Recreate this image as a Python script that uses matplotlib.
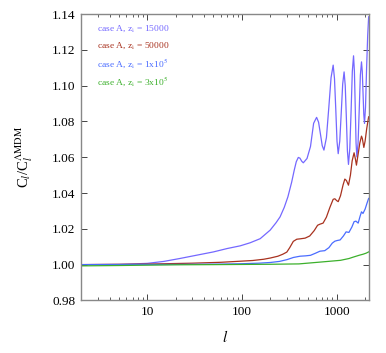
import matplotlib
matplotlib.use("Agg")
import matplotlib.pyplot as plt
from matplotlib.ticker import FixedLocator, FormatStrFormatter, LogLocator, NullFormatter

# Data (multipole l, ratio C_l / C_l^LambdaMDM)
l_a = [2, 5, 10, 15, 22, 30, 50, 70, 96, 122, 156, 199, 230, 253, 280, 306, 335, 357,
       375, 394, 410, 428, 445, 487, 530, 572, 615, 645, 675, 705, 735, 781, 828, 874,
       920, 950, 980, 1010, 1040, 1080, 1120, 1160, 1200, 1234, 1268, 1301, 1335, 1379,
       1423, 1466, 1510, 1542, 1574, 1605, 1637, 1686, 1735, 1783, 1832, 1867, 1902,
       1937, 1972, 2020, 2075, 2130, 2180]
ratio_a = [1.0000, 1.0001, 1.0007, 1.0018, 1.0034, 1.0048, 1.0071, 1.0090, 1.0105,
           1.0122, 1.0145, 1.0193, 1.0235, 1.0267, 1.0320, 1.0379, 1.0460, 1.0528,
           1.0575, 1.0599, 1.0595, 1.0578, 1.0569, 1.0593, 1.0660, 1.0790, 1.0823,
           1.0796, 1.0730, 1.0665, 1.0640, 1.0710, 1.0880, 1.1045, 1.1115, 1.1040,
           1.0870, 1.0690, 1.0620, 1.0690, 1.0850, 1.1010, 1.1077, 1.1000, 1.0820,
           1.0635, 1.0560, 1.0650, 1.0860, 1.1080, 1.1167, 1.1080, 1.0880, 1.0680,
           1.0602, 1.0680, 1.0870, 1.1060, 1.1133, 1.1080, 1.0960, 1.0840, 1.0789,
           1.0880, 1.1100, 1.1280, 1.1385]

l_b = [2, 10, 30, 60, 96, 130, 170, 200, 240, 270, 298, 320, 349, 380, 411, 465, 520,
       580, 630, 667, 720, 780, 850, 920, 959, 1000, 1040, 1100, 1170, 1222, 1270, 1335,
       1400, 1460, 1530, 1580, 1620, 1680, 1760, 1832, 1870, 1940, 2000, 2080, 2180]
ratio_b = [1.0000, 1.0003, 1.0008, 1.0013, 1.0019, 1.0023, 1.0030, 1.0037, 1.0047,
           1.0058, 1.0070, 1.0095, 1.0130, 1.0142, 1.0144, 1.0148, 1.0160, 1.0190,
           1.0220, 1.0226, 1.0232, 1.0265, 1.0320, 1.0365, 1.0368, 1.0358, 1.0352,
           1.0385, 1.0445, 1.0478, 1.0470, 1.0444, 1.0500, 1.0580, 1.0625, 1.0590,
           1.0556, 1.0610, 1.0680, 1.0718, 1.0705, 1.0655, 1.0690, 1.0760, 1.0826]

l_c = [2, 20, 60, 100, 150, 200, 250, 300, 350, 411, 470, 530, 600, 667, 750, 830, 900,
       959, 1020, 1090, 1180, 1260, 1350, 1450, 1530, 1600, 1690, 1770, 1832, 1900, 2000,
       2100, 2180]
ratio_c = [1.0000, 1.0001, 1.0003, 1.0005, 1.0008, 1.0012, 1.0018, 1.0028, 1.0040,
           1.0047, 1.0049, 1.0052, 1.0064, 1.0075, 1.0078, 1.0095, 1.0120, 1.0131,
           1.0135, 1.0138, 1.0160, 1.0183, 1.0180, 1.0210, 1.0240, 1.0243, 1.0232,
           1.0270, 1.0295, 1.0286, 1.0310, 1.0345, 1.0370]

l_d = [2, 5, 10, 20, 50, 100, 200, 400, 667, 900, 1100, 1350, 1500, 1750, 1900, 2050, 2180]
ratio_d = [0.9993, 0.9995, 0.9997, 0.9999, 1.0000, 1.0001, 1.0002, 1.0004, 1.0014,
           1.0020, 1.0024, 1.0034, 1.0042, 1.0053, 1.0058, 1.0064, 1.0071]

labels = [r"case A, z$_{\rm i}$ = 15000",
          r"case A, z$_{\rm i}$ = 50000",
          r"case A, z$_{\rm i}$ = 1x10$^5$",
          r"case A, z$_{\rm i}$ = 3x10$^5$"]
colors = ["#7468ff", "#a8321f", "#4a6cff", "#3cb02c"]

y_ticks = [0.98, 1.00, 1.02, 1.04, 1.06, 1.08, 1.10, 1.12, 1.14]
x_ticks = [10, 100, 1000]

plt.rcParams["font.family"] = "Liberation Serif"
plt.rcParams["mathtext.fontset"] = "stix"

fig = plt.figure(figsize=(3.86, 3.53), dpi=100)
ax = fig.add_axes([0.21, 0.149, 0.746, 0.811])

series = [(l_a, ratio_a), (l_b, ratio_b), (l_c, ratio_c), (l_d, ratio_d)]
for (x, y), c in zip(series, colors):
    ax.plot(x, y, color=c, lw=0.9)

ax.set_xscale("log")
ax.set_xlim(2, 2200)
ax.set_ylim(0.98, 1.14)
ax.xaxis.set_major_locator(FixedLocator(x_ticks))
ax.set_xticklabels([str(t) for t in x_ticks])
ax.xaxis.set_minor_locator(LogLocator(base=10, subs=range(2, 10)))
ax.xaxis.set_minor_formatter(NullFormatter())
ax.yaxis.set_major_locator(FixedLocator(y_ticks))
ax.yaxis.set_major_formatter(FormatStrFormatter("%.2f"))

ax.tick_params(which="both", direction="in", top=True, right=True,
               color="#444444", labelsize=9.5, pad=4)
ax.tick_params(which="major", length=4, width=0.7)
ax.tick_params(which="minor", length=2, width=0.6)
for sp in ax.spines.values():
    sp.set_color("#888888")
    sp.set_linewidth(1.0)

ax.set_xlabel(r"$l$", fontsize=11, labelpad=8)
ax.set_ylabel(r"C$_l$/C$_l^{\Lambda{\rm MDM}}$", fontsize=10.5, labelpad=12)

for i, (txt, c) in enumerate(zip(labels, colors)):
    ax.text(0.055, 0.95 - i * 0.062, txt, color=c, fontsize=6.8,
            transform=ax.transAxes, va="center", ha="left")

fig.savefig("out.png", dpi=100)
